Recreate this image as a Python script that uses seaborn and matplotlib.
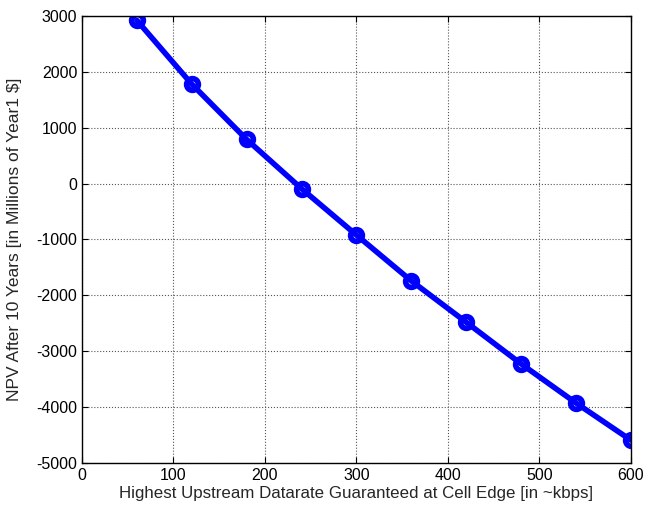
import matplotlib
matplotlib.use("Agg")
import matplotlib.pyplot as plt
import seaborn as sns
import pandas as pd

# data
datarate = [60, 120, 180, 240, 300, 360, 420, 480, 540, 600]
npv = [2920, 1780, 790, -90, -920, -1740, -2480, -3225, -3925, -4590]
df = pd.DataFrame({"rate": datarate, "npv": npv})

sns.set_style("white")
plt.rcParams["font.family"] = ["Liberation Sans", "DejaVu Sans"]
plt.rcParams["axes.unicode_minus"] = False

fig = plt.figure(figsize=(6.64, 5.14), dpi=100)
ax = fig.add_axes([0.1235, 0.0992, 0.8265, 0.8698])

sns.lineplot(data=df, x="rate", y="npv", ax=ax, color="blue", linewidth=4,
             marker="o", markersize=8.5, markerfacecolor="none",
             markeredgecolor="blue", markeredgewidth=4)

ax.set_xlim(0, 600)
ax.set_ylim(-5000, 3000)
ax.set_xticks(range(0, 601, 100))
ax.set_yticks(range(-5000, 3001, 1000))
ax.grid(True, linestyle=":", color="#555555", linewidth=0.8)
ax.tick_params(direction="in", length=4, labelsize=11.5, color="black",
               top=True, right=True, bottom=True, left=True, labelcolor="black")
for s in ax.spines.values():
    s.set_color("black")
    s.set_linewidth(1)
ax.set_xlabel("Highest Upstream Datarate Guaranteed at Cell Edge [in ~kbps]", fontsize=12.2, labelpad=2)
ax.set_ylabel("NPV After 10 Years [in Millions of Year1 $]", fontsize=12.5, labelpad=10)

fig.savefig("out.png", dpi=100)
